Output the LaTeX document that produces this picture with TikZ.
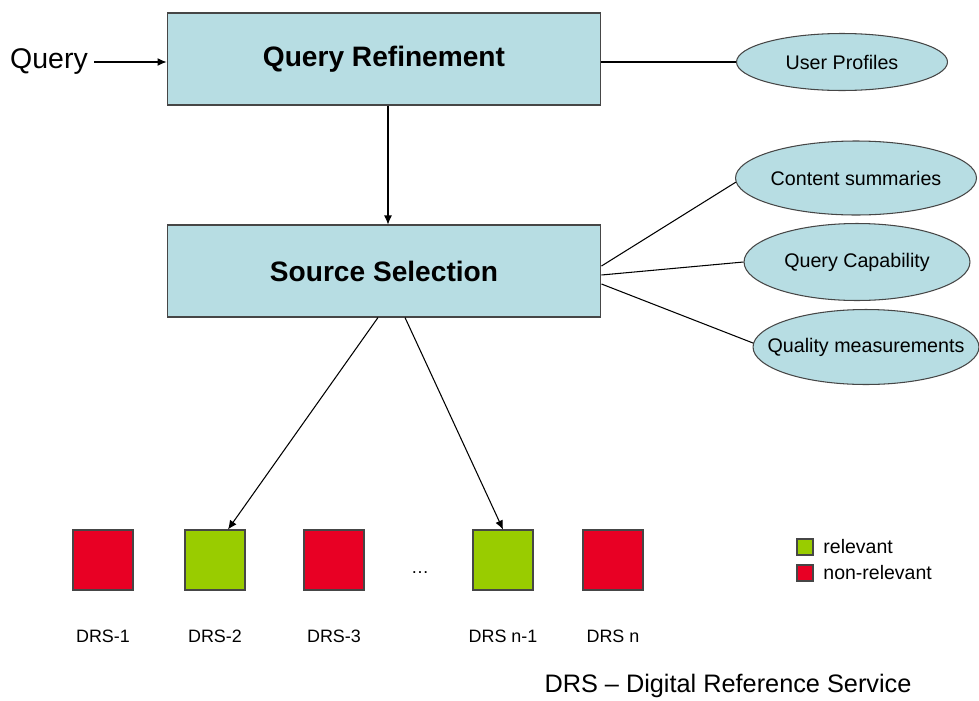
\documentclass[tikz,border=0pt]{standalone}
\usepackage{fontspec}
\setmainfont{Liberation Sans}
\usepackage{tikz}
\usetikzlibrary{arrows.meta,shapes.geometric,positioning}
\definecolor{boxteal}{RGB}{183,221,227}
\definecolor{drsred}{RGB}{232,0,36}
\definecolor{drsgreen}{RGB}{153,204,0}
\definecolor{edgegray}{RGB}{70,70,70}

\begin{document}
\begin{tikzpicture}[x=0.02cm,y=-0.02cm,line width=0.6pt,
  stage/.style={draw=edgegray,fill=boxteal,minimum width=8.68cm,minimum height=1.84cm,font=\fontsize{16}{19}\selectfont\bfseries},
  oval/.style={ellipse,draw=edgegray,fill=boxteal,inner sep=0pt,font=\fontsize{11.2}{13}\selectfont},
  drs/.style={draw=edgegray,minimum size=1.2cm,inner sep=0pt},
  tag/.style={font=\fontsize{10.2}{12}\selectfont},
  key/.style={draw=edgegray,minimum size=0.32cm,inner sep=0pt},
  arr/.style={-{Latex[length=1.8mm,width=1.6mm]}}]
\useasboundingbox (0,0) rectangle (979,700);

\node[stage] (qr) at (384,59) {Query Refinement};
\node[stage] (ss) at (384,271) {Source Selection};
\node[font=\fontsize{16.2}{19}\selectfont] (query) at (49,62) {Query};

\node[oval,minimum width=4.22cm,minimum height=1.14cm] (up) at (842,62) {\makebox[0pt]{User Profiles}};
\node[oval,minimum width=4.82cm,minimum height=1.48cm] (cs) at (856,178) {\makebox[0pt]{Content summaries}};
\node[oval,minimum width=4.52cm,minimum height=1.54cm] (qc) at (857,262) {\makebox[0pt]{Query Capability}};
\node[oval,minimum width=4.52cm,minimum height=1.5cm] (qm) at (866,347) {\makebox[0pt]{Quality measurements}};

\draw[arr] (query.east) -- (query.east -| qr.west);
\draw (qr.east |- up.west) -- (up.west);
\draw[arr] ([xshift=0.08cm]qr.south) -- ([xshift=0.08cm]ss.north);
\draw ([yshift=0.1cm]ss.east) -- (cs.182);
\draw ([yshift=-0.08cm]ss.east) -- (qc.west);
\draw ([yshift=-0.26cm]ss.east) -- (qm.178);

\node[drs,fill=drsred] (drs1) at (103,560) {};
\node[drs,fill=drsgreen] (drs2) at (215,560) {};
\node[drs,fill=drsred] (drs3) at (334,560) {};
\node[drs,fill=drsgreen] (drsn1) at (503,560) {};
\node[drs,fill=drsred] (drsn) at (613,560) {};
\node[tag] (dots) at (420,573) {\dots};

\node[tag,below=0.66cm of drs1] (t1) {DRS-1};
\node[tag,below=0.66cm of drs2] (t2) {DRS-2};
\node[tag,below=0.66cm of drs3] (t3) {DRS-3};
\node[tag,below=0.66cm of drsn1] (tn1) {DRS n-1};
\node[tag,below=0.66cm of drsn] (tn) {DRS n};

\draw[arr] ([xshift=-0.12cm]ss.south) -- ([xshift=0.26cm]drs2.north);
\draw[arr] ([xshift=0.42cm]ss.south) -- (drsn1.north);

\node[key,fill=drsgreen] (kg) at (805,547) {};
\node[key,fill=drsred] (kr) at (805,573) {};
\node[font=\fontsize{11.1}{13}\selectfont,right=0.07cm of kg] (lg) {relevant};
\node[font=\fontsize{11.1}{13}\selectfont,right=0.07cm of kr] (lr) {non-relevant};

\node[font=\fontsize{14.4}{17}\selectfont] (foot) at (728,686) {DRS -- Digital Reference Service};
\end{tikzpicture}
\end{document}
